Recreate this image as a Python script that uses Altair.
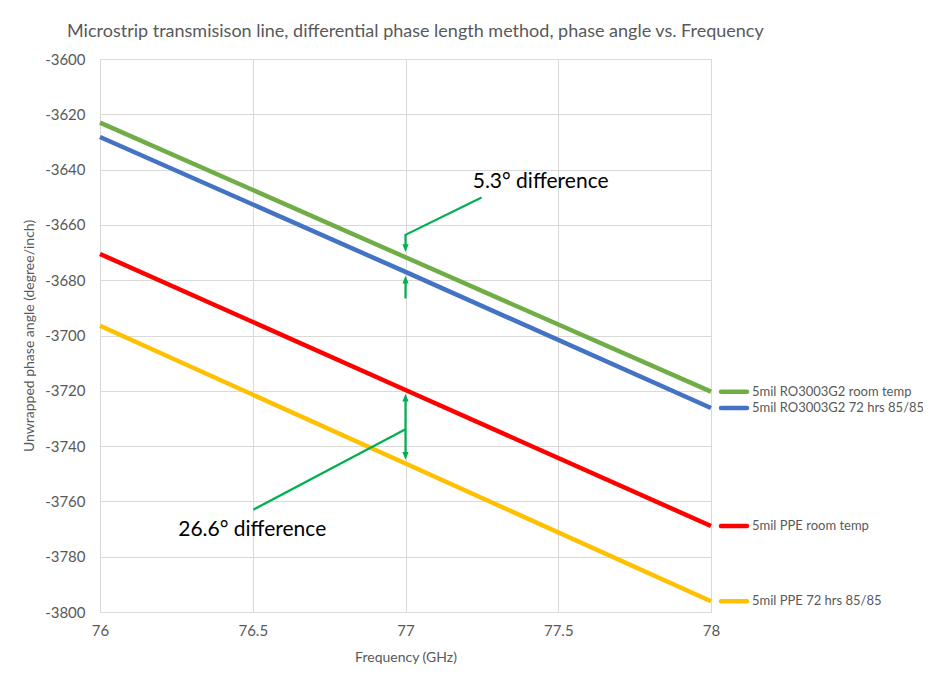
import altair as alt
import pandas as pd

# ---- data ----
freq = [76, 77, 78]
series_names = [
    "5mil RO3003G2 room temp",
    "5mil RO3003G2 72 hrs 85/85",
    "5mil PPE room temp",
    "5mil PPE 72 hrs 85/85",
]
green_vals = [-3623.0, -3671.7, -3720.3]
blue_vals = [-3628.2, -3677.0, -3726.2]
red_vals = [-3670.5, -3719.7, -3768.9]
yellow_vals = [-3696.5, -3746.3, -3796.1]
series_colors = ["#70ad47", "#4472c4", "#ff0000", "#ffc000"]

x_ticks = [76, 76.5, 77, 77.5, 78]
y_ticks = [-3600, -3620, -3640, -3660, -3680, -3700, -3720, -3740, -3760, -3780, -3800]

# annotation arrows (data units)
arrow_path_id = [1, 1, 1, 2, 2, 3, 3, 4, 4]
arrow_path_x = [77.249, 77.0, 77.0, 77.0, 77.0, 76.502, 77.0, 77.0, 77.0]
arrow_path_y = [-3650.1, -3663.6, -3668.0, -3686.6, -3680.0, -3763.0, -3733.9, -3723.0, -3743.2]
head_x = [77.0, 77.0, 77.0, 77.0]
head_y = [-3669.8, -3678.4, -3721.1, -3744.9]
head_dir = ["down", "up", "up", "down"]
note_text = ["5.3° difference", "26.6° difference"]
note_x = [77.22, 76.256]
note_y = [-3644.4, -3770.3]

# ---- tables ----
rows = []
for name, vals in zip(series_names, [green_vals, blue_vals, red_vals, yellow_vals]):
    for f, v in zip(freq, vals):
        rows.append({"series": name, "freq": f, "phase": v})
df = pd.DataFrame(rows)
end_df = df[df["freq"] == 78].copy()
arrows_df = pd.DataFrame({"id": arrow_path_id, "x": arrow_path_x, "y": arrow_path_y,
                          "ord": list(range(len(arrow_path_id)))})
heads_df = pd.DataFrame({"x": head_x, "y": head_y, "dir": head_dir})
notes_df = pd.DataFrame({"text": note_text, "x": note_x, "y": note_y})

FONT = "Lato"
GRAY = "#595959"
ARROW = "#00b050"

xscale = alt.Scale(domain=[76, 78], nice=False, zero=False)
yscale = alt.Scale(domain=[-3800, -3600], nice=False, zero=False)
color_scale = alt.Scale(domain=series_names, range=series_colors)

X = alt.X("freq:Q", scale=xscale, title="Frequency (GHz)",
          axis=alt.Axis(values=x_ticks, grid=True, gridColor="#d9d9d9", domain=False, ticks=False,
                        labelExpr="'' + datum.value",
                        labelFont=FONT, labelFontSize=15, labelColor=GRAY, labelPadding=11,
                        titleFont=FONT, titleFontSize=14, titleColor=GRAY, titleFontWeight="normal",
                        titlePadding=12, labelFlush=False))
Y = alt.Y("phase:Q", scale=yscale, title="Unwrapped  phase angle (degree/inch)",
          axis=alt.Axis(values=y_ticks, grid=True, gridColor="#d9d9d9", domain=False, ticks=False,
                        labelExpr="'' + datum.value",
                        labelFont=FONT, labelFontSize=15, labelColor=GRAY, labelPadding=15,
                        titleFont=FONT, titleFontSize=14, titleColor=GRAY, titleFontWeight="normal",
                        titlePadding=8))

lines = alt.Chart(df).mark_line(strokeWidth=4.5).encode(
    x=X, y=Y,
    color=alt.Color("series:N", scale=color_scale, legend=None),
    detail="series:N",
)

seg = alt.Chart(end_df).mark_rule(strokeWidth=4.5, strokeCap="round").encode(
    y=alt.Y("phase:Q", scale=yscale),
    x=alt.value(621), x2=alt.value(647),
    color=alt.Color("series:N", scale=color_scale, legend=None),
)
labels = alt.Chart(end_df).mark_text(align="left", baseline="middle", font=FONT, fontSize=13,
                                     color=GRAY).encode(
    y=alt.Y("phase:Q", scale=yscale),
    x=alt.value(652),
    text="series:N",
)

arrow_lines = alt.Chart(arrows_df).mark_line(color=ARROW, strokeWidth=2.2).encode(
    x=alt.X("x:Q", scale=xscale), y=alt.Y("y:Q", scale=yscale),
    detail="id:N", order="ord:Q",
)
down_heads = alt.Chart(heads_df[heads_df["dir"] == "down"]).mark_point(
    shape="M0,0L-0.8,-2L0.8,-2Z", filled=True, color=ARROW, opacity=1, size=60).encode(
    x=alt.X("x:Q", scale=xscale), y=alt.Y("y:Q", scale=yscale))
up_heads = alt.Chart(heads_df[heads_df["dir"] == "up"]).mark_point(
    shape="M0,0L-0.8,2L0.8,2Z", filled=True, color=ARROW, opacity=1, size=60).encode(
    x=alt.X("x:Q", scale=xscale), y=alt.Y("y:Q", scale=yscale))
notes = alt.Chart(notes_df).mark_text(align="left", baseline="middle", font=FONT, fontSize=21,
                                      color="#000000").encode(
    x=alt.X("x:Q", scale=xscale), y=alt.Y("y:Q", scale=yscale), text="text:N")

chart = alt.layer(lines, arrow_lines, down_heads, up_heads, seg, labels, notes).properties(
    width=611, height=553,
    title=alt.TitleParams(
        "Microstrip transmisison line, differential phase length method, phase angle vs. Frequency",
        anchor="start", frame="group", dx=-33, offset=11,
        font=FONT, fontSize=18, fontWeight="normal", color=GRAY),
    autosize=alt.AutoSizeParams(type="none"),
    padding={"left": 92, "top": 51, "right": 212, "bottom": 55},
).configure_view(stroke="#d9d9d9", strokeWidth=1).configure(background="white")

chart.save("out.html", embed_options={"renderer": "svg", "actions": False})
